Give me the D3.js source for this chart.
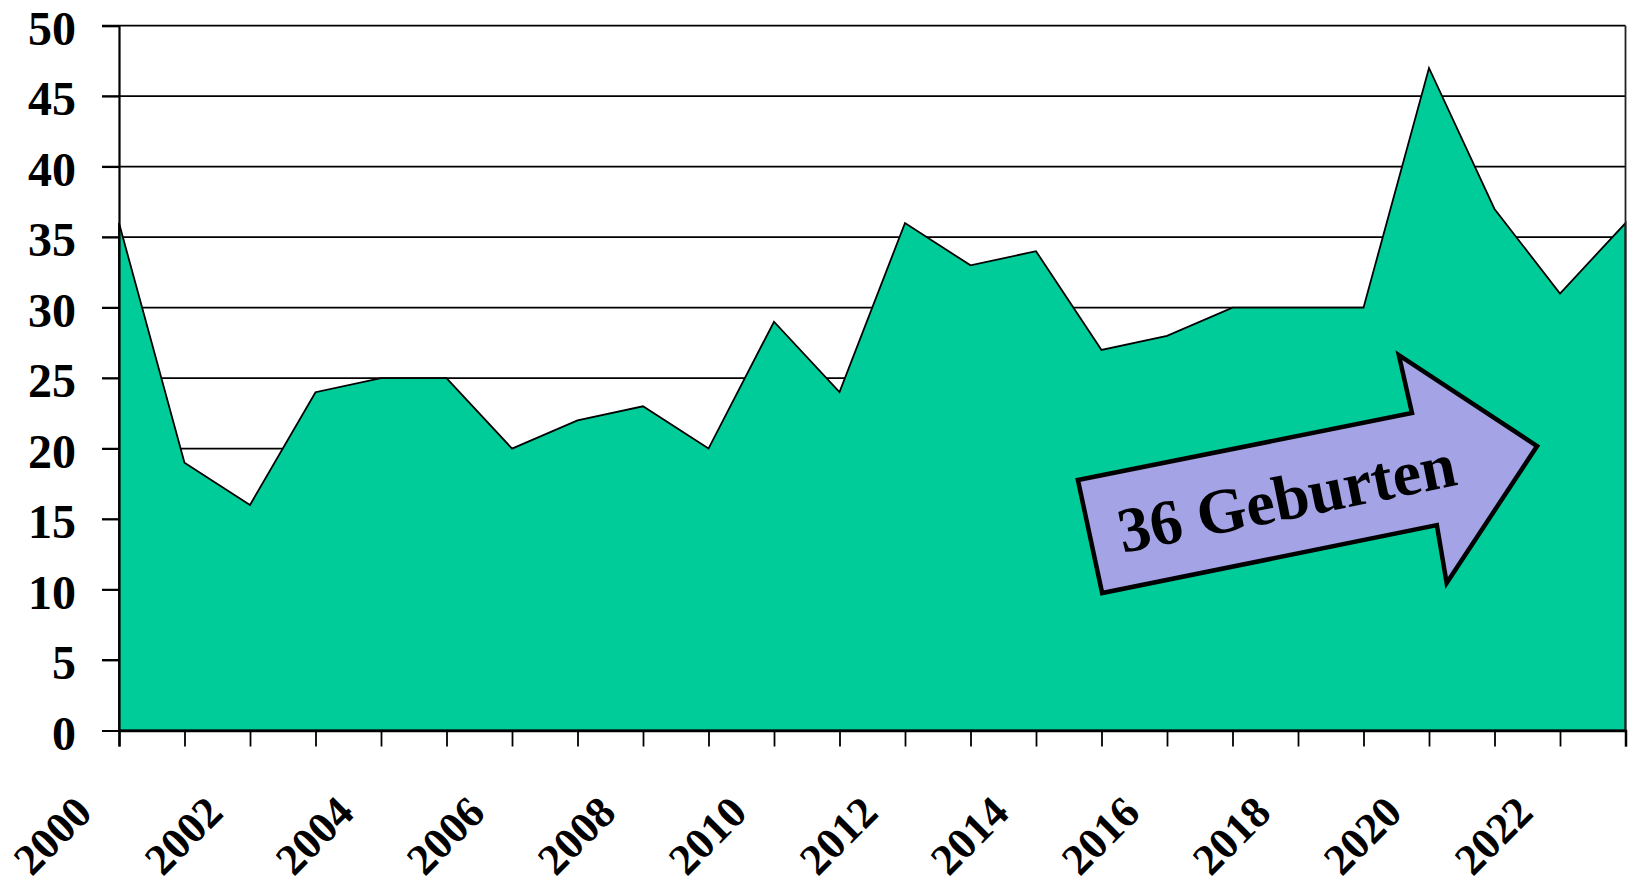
<!DOCTYPE html>
<html>
<head>
<meta charset="utf-8">
<style>
  html, body { margin: 0; padding: 0; background: #fff; }
  svg { display: block; }
  text { font-family: "Liberation Serif", "Times New Roman", serif; font-weight: bold; fill: #000; }
</style>
</head>
<body>
<svg id="chart" width="1633" height="888"></svg>
<script src="https://d3js.org/d3.v7.min.js"></script>
<script>

// Geburten pro Jahr
const years = d3.range(2000, 2024)
const births = [36, 19, 16, 24, 25, 25, 20, 22, 23, 20, 29, 24, 36, 33, 34, 27, 28, 30, 30, 30, 47, 37, 31, 36]
const yTicks = [0, 5, 10, 15, 20, 25, 30, 35, 40, 45, 50]
const xLabels = [2000, 2002, 2004, 2006, 2008, 2010, 2012, 2014, 2016, 2018, 2020, 2022]

// arrow annotation, outline in data units (year, value)
const arrowShape = [
  [2014.64, 17.77], [2019.74, 22.52], [2019.54, 26.63], [2021.65, 20.18],
  [2020.27, 10.46], [2020.12, 14.57], [2015.01, 9.75]
]
const arrowText = '36 Geburten'

const svg = d3.select('#chart')
const plotLeft = 119, plotRight = 1625.5, plotTop = 25.7, plotBottom = 730.5

const x = d3.scaleLinear().domain([2000, 2023]).range([plotLeft, plotRight])
const y = d3.scaleLinear().domain([0, 50]).range([plotBottom, plotTop])

// gridlines (extend left past the axis like ticks)
svg.append('g')
  .selectAll('line')
  .data(yTicks.filter(d => d > 0))
  .enter()
  .append('line')
    .attr('x1', plotLeft - 17)
    .attr('x2', plotRight)
    .attr('y1', d => y(d))
    .attr('y2', d => y(d))
    .attr('stroke', '#000')
    .attr('stroke-width', 1.8)

// area
let area = d3.area().x((d, i) => x(years[i])).y0(y(0)).y1(d => y(d))
svg.append('path')
  .datum(births)
  .attr('d', area)
  .attr('fill', '#00cc99')
  .attr('stroke', '#000')
  .attr('stroke-width', 1.8)
  .attr('stroke-linejoin', 'miter')

// right border
svg.append('line')
  .attr('x1', plotRight).attr('x2', plotRight)
  .attr('y1', plotTop).attr('y2', plotBottom)
  .attr('stroke', '#222').attr('stroke-width', 1.8)

// y axis
let yAxis = d3.axisLeft(y).tickValues(yTicks).tickSize(17).tickFormat('')
let gy = svg.append('g').attr('transform', 'translate(' + plotLeft + ',0)').call(yAxis)
gy.select('.domain').attr('stroke-width', 2.2)
gy.selectAll('.tick line').attr('stroke-width', 1.8)

svg.append('g')
  .selectAll('text')
  .data(yTicks)
  .enter()
  .append('text')
    .attr('x', 76)
    .attr('y', d => y(d) + 19)
    .attr('text-anchor', 'end')
    .attr('font-size', 48)
    .text(d => d)

// x axis
let xAxis = d3.axisBottom(x).tickValues(years).tickSize(16).tickFormat('')
let gx = svg.append('g').attr('transform', 'translate(0,' + plotBottom + ')').call(xAxis)
gx.select('.domain').attr('stroke-width', 2.5)
gx.selectAll('.tick line').attr('stroke-width', 1.8)

svg.append('g')
  .selectAll('text')
  .data(xLabels)
  .enter()
  .append('text')
    .attr('transform', d => 'translate(' + (x(d) - 25) + ',815) rotate(-45)')
    .attr('text-anchor', 'end')
    .attr('font-size', 44)
    .text(d => d)

// arrow
svg.append('path')
  .datum(arrowShape)
  .attr('d', d3.line().x(d => x(d[0])).y(d => y(d[1])).curve(d3.curveLinearClosed))
  .attr('fill', '#a3a3e6')
  .attr('stroke', '#000')
  .attr('stroke-width', 4.5)
  .attr('stroke-linejoin', 'miter')

svg.append('text')
  .attr('transform', 'translate(' + (x(2015.28) + 3) + ',' + y(12.59) + ') rotate(-11.5)')
  .attr('font-size', 64)
  .text(arrowText)

</script>
</body>
</html>
